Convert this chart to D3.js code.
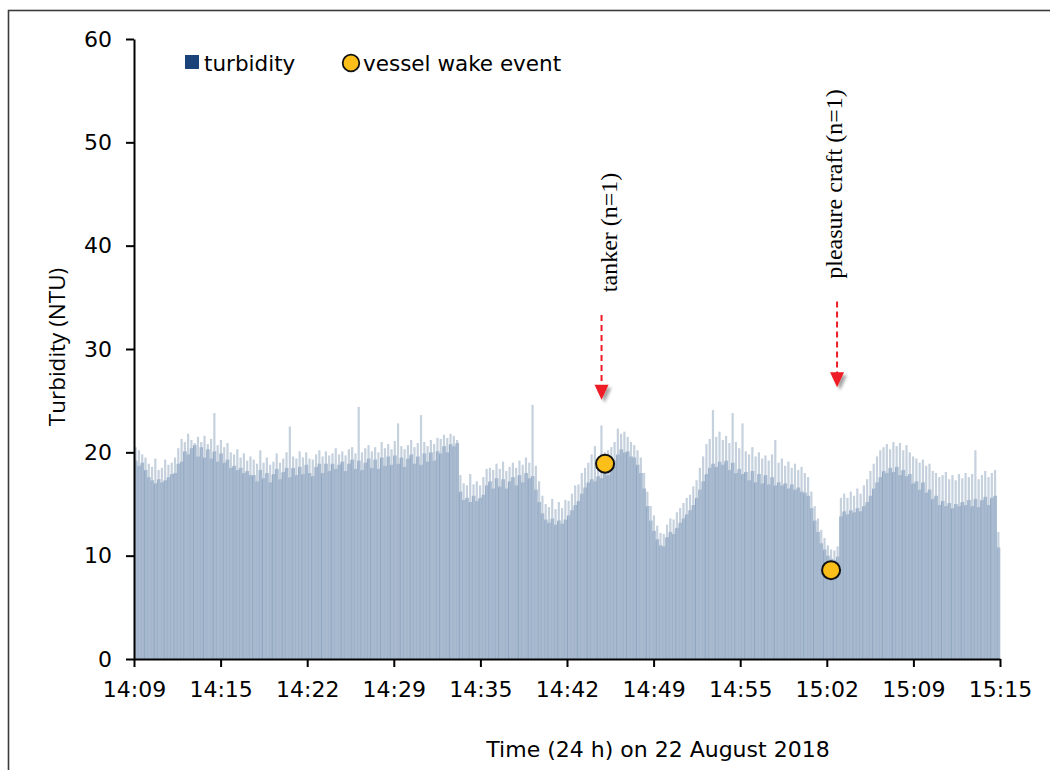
<!DOCTYPE html>
<html>
<head>
<meta charset="utf-8">
<script src="https://cdn.jsdelivr.net/npm/d3@7"></script>
<style>
  body { margin: 0; background: #fff; }
  svg { display: block; }
</style>
</head>
<body>
<svg id="chart" width="1050" height="770"></svg>
<script>
// turbidity in 15 s bins, 14:09 -> 15:15 (264 bins)
// typical level of each bin
const turbidityMean = [
  19.2, 18.7, 19.0, 18.3, 17.6, 17.3, 17.0, 17.4, 17.1, 17.3, 17.6, 17.9,
  18.0, 18.9, 19.1, 20.1, 19.8, 20.4, 20.7, 19.6, 20.5, 19.5, 20.3, 19.4,
  20.1, 19.1, 19.9, 19.0, 19.3, 18.5, 18.7, 18.3, 18.5, 18.0, 18.2, 17.8,
  17.8, 17.2, 18.3, 17.5, 18.0, 17.1, 17.9, 18.4, 17.4, 18.1, 18.5, 17.6,
  18.5, 17.8, 18.6, 17.9, 18.8, 18.0, 17.7, 18.6, 18.9, 18.0, 18.9, 18.2,
  18.9, 18.4, 18.8, 19.1, 18.2, 18.9, 19.3, 18.4, 19.2, 18.3, 19.0, 19.4,
  18.5, 19.3, 18.4, 19.5, 18.7, 19.6, 18.8, 19.7, 18.9, 19.5, 18.6, 19.4,
  19.8, 18.9, 19.6, 18.8, 19.9, 19.1, 20.0, 19.2, 20.1, 19.9, 20.6, 20.0,
  20.8, 20.6, 20.9, 16.2, 15.4, 15.6, 15.2, 15.8, 15.3, 15.6, 15.9, 16.8,
  17.2, 16.5, 17.5, 16.7, 17.4, 16.5, 17.2, 17.6, 16.8, 17.8, 17.1, 18.0,
  17.5, 17.7, 16.4, 15.2, 14.1, 13.5, 13.2, 13.6, 13.0, 13.4, 13.1, 13.5,
  13.9, 14.4, 14.9, 15.3, 16.0, 16.6, 17.1, 17.4, 17.2, 17.7, 17.5, 18.0,
  17.8, 18.3, 19.2, 19.8, 20.3, 20.0, 20.1, 19.6, 19.5, 18.8, 18.0, 16.5,
  14.8, 13.4, 12.4, 11.6, 11.0, 10.9, 11.8, 12.3, 12.1, 12.7, 13.2, 13.6,
  14.0, 14.4, 14.9, 15.6, 16.4, 17.2, 17.9, 18.5, 18.9, 18.6, 19.1, 18.8,
  19.2, 18.3, 19.0, 18.0, 18.4, 17.9, 18.1, 17.3, 18.2, 17.1, 17.9, 17.0,
  17.8, 16.9, 17.6, 16.8, 17.1, 16.8, 17.0, 16.5, 16.9, 16.4, 16.6, 16.2,
  16.1, 15.8, 14.6, 13.4, 12.3, 11.2, 10.6, 10.0, 9.7, 9.6, 9.9, 13.8,
  14.3, 14.0, 14.4, 14.2, 14.6, 14.3, 14.8, 15.2, 15.8, 16.5, 17.1, 17.6,
  18.2, 18.0, 18.5, 18.1, 18.6, 17.8, 18.3, 17.7, 17.9, 17.0, 17.2, 16.4,
  17.1, 16.1, 16.4, 15.5, 15.8, 14.9, 15.3, 14.8, 15.1, 14.6, 15.0, 14.8,
  15.2, 14.9, 15.4, 14.8, 15.5, 14.7, 15.4, 15.7, 14.9, 15.6, 15.8, 10.8
];
// highest reading inside each bin
const turbidityMax = [
  20.5, 20.2, 19.8, 19.5, 18.9, 18.6, 19.4, 18.3, 18.5, 19.3, 18.8, 19.0,
  19.5, 20.4, 21.3, 21.0, 21.8, 21.2, 20.9, 21.5, 21.0, 21.6, 20.8, 21.3,
  23.8, 20.7, 21.2, 20.5, 20.9, 20.0, 19.8, 20.3, 19.5, 19.9, 19.2, 19.6,
  19.3, 18.9, 20.2, 19.0, 19.5, 18.8, 19.1, 19.9, 19.0, 19.4, 20.0, 22.5,
  19.6, 19.4, 20.1, 19.5, 20.0, 19.4, 19.3, 19.8, 20.2, 19.6, 20.1, 19.7,
  19.9, 20.4, 19.8, 20.1, 19.7, 20.3, 20.5, 19.9, 24.4, 20.0, 20.4, 20.7,
  20.1, 20.5, 20.0, 21.0, 20.4, 20.8, 20.3, 21.1, 22.8, 20.6, 20.3, 20.7,
  21.2, 20.5, 20.9, 23.6, 21.0, 20.6, 21.2, 20.8, 21.4, 21.3, 21.7, 21.4,
  21.8, 21.6, 21.2, 17.8, 17.0, 16.8, 17.9, 16.9, 17.2, 16.8, 17.6, 18.4,
  18.5, 18.3, 18.9, 18.4, 19.1, 18.2, 18.6, 19.0, 18.5, 19.2, 18.8, 19.5,
  19.0, 24.6, 18.7, 17.2, 15.8, 15.0, 14.7, 15.5, 14.5, 15.2, 14.6, 15.4,
  15.3, 16.0, 16.8, 16.9, 18.0, 18.5, 19.0, 19.8, 20.6, 19.4, 22.6, 20.0,
  20.2, 20.5, 21.0, 22.3, 21.8, 22.0, 21.5, 21.0, 20.7, 20.2, 19.5, 18.0,
  16.2, 14.8, 13.9, 12.9, 12.2, 12.1, 13.0, 13.6, 13.5, 14.2, 14.6, 15.1,
  15.6, 15.9, 16.7, 17.3, 18.5, 19.6, 20.8, 21.3, 24.1, 21.5, 22.0, 21.2,
  21.6, 20.9, 23.8, 21.0, 20.4, 22.8, 20.1, 19.8, 20.5, 19.6, 20.0, 19.4,
  19.7, 19.2, 19.8, 21.2, 19.0, 19.4, 18.7, 19.1, 18.5, 18.9, 18.3, 18.6,
  18.0, 17.6, 16.2, 14.8, 13.6, 12.5, 11.7, 11.0, 10.6, 10.5, 10.9, 15.6,
  16.0, 15.6, 16.2, 15.8, 16.5, 16.0, 16.8, 17.4, 18.2, 18.9, 19.6, 20.2,
  20.5, 20.8, 20.3, 21.0, 20.6, 20.9, 20.2, 20.7, 20.0, 19.6, 19.4, 19.0,
  19.3, 18.7, 18.9, 18.2, 18.0, 17.6, 17.8, 18.1, 17.4, 17.8, 17.3, 17.9,
  17.5, 18.0, 17.6, 17.9, 20.2, 17.4, 17.8, 18.2, 17.6, 18.0, 18.3, 12.3
];

const timeLabels = ["14:09", "14:15", "14:22", "14:29", "14:35", "14:42",
                    "14:49", "14:55", "15:02", "15:09", "15:15"];
const yTicks = [0, 10, 20, 30, 40, 50, 60];

// vessel wake events (position in bins, turbidity)
const eventBin = [143.6, 212.5];
const eventValue = [18.9, 8.6];
const eventLabel = ["tanker (n=1)", "pleasure craft (n=1)"];
// arrow tip / tail and label start, in NTU
const arrowTip = [25.1, 26.3];
const arrowTail = [33.3, 34.6];
const labelStart = [35.5, 36.8];

const legendLabels = ["turbidity", "vessel wake event"];

const margin = { top: 39, right: 50, bottom: 111, left: 134 },
  width = 866,
  height = 620;

const svg = d3.select("#chart");

// outer frame of the figure panel
svg.append("rect")
  .attr("x", 8.5).attr("y", 10.5)
  .attr("width", 1100).attr("height", 800)
  .attr("fill", "none")
  .attr("stroke", "#3c3c3c")
  .attr("stroke-width", 1.6);

const defs = svg.append("defs");
defs.append("filter").attr("id", "shadow")
  .attr("x", "-50%").attr("y", "-50%").attr("width", "200%").attr("height", "200%")
  .append("feDropShadow")
  .attr("dx", 3).attr("dy", 3).attr("stdDeviation", 1.8)
  .attr("flood-color", "#000").attr("flood-opacity", 0.35);

const g = svg.append("g")
  .attr("transform", `translate(${margin.left},${margin.top})`);

const y = d3.scaleLinear().domain([0, 60]).range([height, 0]);
const xs = d3.scaleLinear().domain([0, turbidityMean.length]).range([0, width]);
const xTick = d3.scalePoint().domain(timeLabels).range([0, width]);
const bw = xs(1) - xs(0);

// spikes (max per bin)
g.append("g").selectAll("rect")
  .data(turbidityMax).join("rect")
  .attr("x", (d, i) => xs(i) + bw / 2 - 1.1)
  .attr("width", 2.2)
  .attr("y", d => y(d))
  .attr("height", d => height - y(d))
  .attr("fill", "#c6d1de");

// body of the series
g.append("g").selectAll("rect")
  .data(turbidityMean).join("rect")
  .attr("x", (d, i) => xs(i))
  .attr("width", bw + 0.3)
  .attr("y", d => y(d))
  .attr("height", d => height - y(d))
  .attr("fill", "#a8bacf");

// fine vertical texture of the dense bars
g.append("g").selectAll("line")
  .data(turbidityMean).join("line")
  .attr("x1", (d, i) => xs(i) + 0.5)
  .attr("x2", (d, i) => xs(i) + 0.5)
  .attr("y1", d => y(d) + 1)
  .attr("y2", height)
  .attr("stroke", "#7892b2")
  .attr("stroke-width", 0.6)
  .attr("stroke-opacity", (d, i) => (i % 3 === 0 ? 0.85 : 0.4));

// axes
const yAxis = g.append("g")
  .call(d3.axisLeft(y).tickValues(yTicks).tickSize(8).tickPadding(14).tickSizeOuter(0));
const xAxis = g.append("g")
  .attr("transform", `translate(0,${height})`)
  .call(d3.axisBottom(xTick).tickSize(8).tickPadding(14).tickSizeOuter(0));

[yAxis, xAxis].forEach(a => {
  a.selectAll("path, line").attr("stroke", "#000").attr("stroke-width", 2);
  a.selectAll("text")
    .attr("fill", "#000")
    .style("font-family", "'DejaVu Sans', sans-serif")
    .style("font-size", "22px");
});

// axis titles
svg.append("text")
  .attr("transform", "translate(65,347) rotate(-90)")
  .attr("text-anchor", "middle")
  .style("font-family", "'Open Sans', sans-serif")
  .style("font-size", "22.5px")
  .text("Turbidity (NTU)");

svg.append("text")
  .attr("x", 658).attr("y", 757)
  .attr("text-anchor", "middle")
  .style("font-family", "'DejaVu Sans', sans-serif")
  .style("font-size", "22px")
  .text("Time (24 h) on 22 August 2018");

// annotations: labels and dashed arrows
const arrowShift = [-3.5, 6];
const labelShift = [12, 11];
eventBin.forEach((b, i) => {
  const ax = xs(b) + arrowShift[i];
  const tipY = y(arrowTip[i]);
  g.append("line")
    .attr("x1", ax).attr("x2", ax)
    .attr("y1", y(arrowTail[i])).attr("y2", tipY - 13)
    .attr("stroke", "#ee1c25")
    .attr("stroke-width", 2)
    .attr("stroke-dasharray", "6,4");
  g.append("path")
    .attr("d", `M${ax - 7},${tipY - 15}L${ax + 7},${tipY - 15}L${ax},${tipY}Z`)
    .attr("fill", "#ee1c25")
    .attr("filter", "url(#shadow)");
  g.append("text")
    .attr("transform", `translate(${xs(b) + labelShift[i]},${y(labelStart[i])}) rotate(-90)`)
    .style("font-family", "'Liberation Serif', 'Times New Roman', serif")
    .style("font-size", "24px")
    .attr("fill", "#000")
    .text(eventLabel[i]);
});

// event markers
g.append("g").selectAll("circle")
  .data(eventBin).join("circle")
  .attr("cx", d => xs(d))
  .attr("cy", (d, i) => y(eventValue[i]))
  .attr("r", 9)
  .attr("fill", "#fcbf1a")
  .attr("stroke", "#111")
  .attr("stroke-width", 2);

// legend
const legend = svg.append("g");
legend.append("rect")
  .attr("x", 185).attr("y", 55).attr("width", 14).attr("height", 14)
  .attr("fill", "#1a4479");
legend.append("text")
  .attr("x", 204).attr("y", 71)
  .style("font-family", "'DejaVu Sans', sans-serif")
  .style("font-size", "21.5px")
  .text(legendLabels[0]);
legend.append("circle")
  .attr("cx", 351).attr("cy", 63).attr("r", 8.3)
  .attr("fill", "#fcbf1a")
  .attr("stroke", "#111")
  .attr("stroke-width", 1.8);
legend.append("text")
  .attr("x", 363).attr("y", 71)
  .style("font-family", "'DejaVu Sans', sans-serif")
  .style("font-size", "21.5px")
  .text(legendLabels[1]);
</script>
</body>
</html>
